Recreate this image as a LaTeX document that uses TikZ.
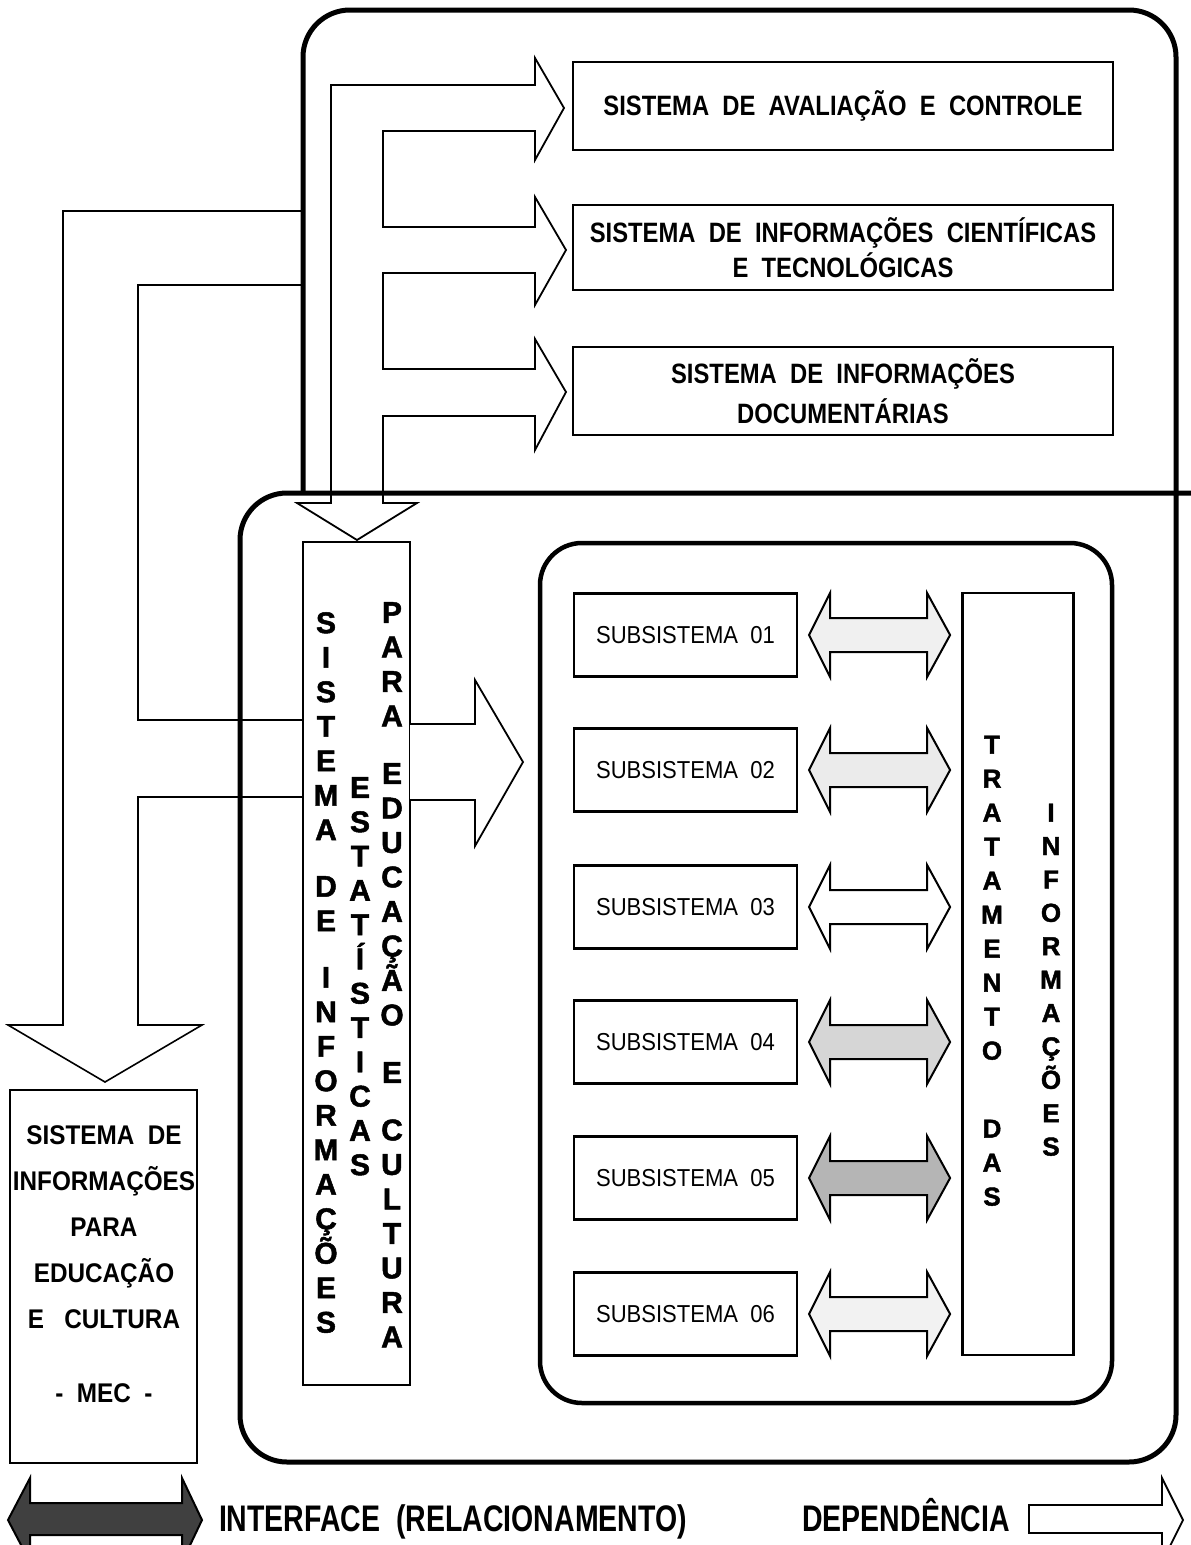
\documentclass[tikz,border=0pt]{standalone}
\usepackage{fontspec}
\setmainfont{Liberation Sans}
\newfontfamily\boxf{Liberation Sans}[FakeStretch=0.85]
\newfontfamily\subf{Liberation Sans}[FakeStretch=0.9]
\newfontfamily\mecf{Liberation Sans}[FakeStretch=0.9]
\newfontfamily\legf{Liberation Sans}[FakeStretch=0.77]
\newfontfamily\vertf{Liberation Sans}[BoldFeatures={FakeBold=1.6}]
\usetikzlibrary{calc}
\begin{document}
\begin{tikzpicture}[x=1pt,y=-1pt,line join=miter,
  heavyframe/.style={line width=5pt},
  innerframe/.style={line width=4.5pt},
  rbox/.style={draw,line width=2.2pt,inner sep=0pt},
  deparrow/.style={draw,line width=1.8pt,fill=white},
  linkline/.style={draw,line width=1.6pt},
  ifarrow/.style={draw,line width=2pt},
  topfont/.style={font=\boxf\bfseries\fontsize{28}{35}\selectfont},
  subfont/.style={font=\subf\fontsize{24.5}{28}\selectfont},
  vletters/.style={anchor=north,inner sep=0pt,align=center,font=\vertf\bfseries\fontsize{30}{34.5}\selectfont},
]
\fill[white] (0,0) rectangle (1191,1545);
\useasboundingbox (0,0) rectangle (1191,1545);

% dependency arrows (upper part)
\draw[deparrow] (331,503) -- (331,85) -- (535,85) -- (535,58) -- (564,108) -- (535,160) -- (535,131)
  -- (383,131) -- (383,227) -- (535,227) -- (535,197) -- (566,250) -- (535,305) -- (535,273)
  -- (383,273) -- (383,369) -- (535,369) -- (535,339) -- (566,392) -- (535,450) -- (535,416)
  -- (383,416) -- (383,503) -- (417,503) -- (357,540) -- (297,503) -- cycle;

% left links towards MEC
\draw[linkline] (303,211) -- (63,211) -- (63,1025) -- (8,1025) -- (105,1082) -- (202,1025)
  -- (138,1025) -- (138,797) -- (303,797);
\draw[linkline] (303,285) -- (138,285) -- (138,720) -- (303,720);

% frames
\draw[heavyframe, rounded corners=47pt] (303,493) -- (303,10) -- (1176,10) -- (1176,493);
\draw[heavyframe, rounded corners=47pt] (1191,493) -- (240,493) -- (240,1462) -- (1176,1462) -- (1176,493);
\draw[innerframe, rounded corners=42pt] (540,543) rectangle (1112,1403);

% top boxes
\node[rbox,topfont,minimum width=540pt,minimum height=88pt] (sac) at (843,106)
  {SISTEMA~~DE~~AVALIAÇÃO~~E~~CONTROLE};
\node[rbox,topfont,align=center,minimum width=540pt,minimum height=85pt] (sict) at (843,247.5)
  {SISTEMA~~DE~~INFORMAÇÕES~~CIENTÍFICAS\\E~~TECNOLÓGICAS};
\node[rbox,align=center,minimum width=540pt,minimum height=88pt,
  font=\boxf\bfseries\fontsize{28}{40}\selectfont] (sid) at (843,391)
  {SISTEMA~~DE~~INFORMAÇÕES\\DOCUMENTÁRIAS};

% tall statistics box
\node[rbox, minimum width=107pt, minimum height=843pt] (estat) at (356.5,963.5) {};
\node[vletters] (col1) at (326,612)
  {S\\I\\S\\T\\E\\M\\A\\[22pt]D\\E\\[22pt]I\\N\\F\\O\\R\\M\\A\\Ç\\Õ\\E\\S};
\node[vletters, font=\vertf\bfseries\fontsize{30}{34.3}\selectfont] (col2) at (360,777)
  {E\\S\\T\\A\\T\\Í\\S\\T\\I\\C\\A\\S};
\node[vletters] (col3) at (392,602)
  {P\\A\\R\\A\\[23pt]E\\D\\U\\C\\A\\Ç\\Ã\\O\\[23pt]E\\[23pt]C\\U\\L\\T\\U\\R\\A};

% arrow into the inner frame
\draw[deparrow] (410,724) -- (475,724) -- (475,680) -- (523,762) -- (475,846) -- (475,800) -- (410,800);

% subsystems
\node[rbox,subfont,minimum width=223pt,minimum height=83pt] (s1) at (685.5,635) {SUBSISTEMA~~01};
\node[rbox,subfont,minimum width=223pt,minimum height=83pt] (s2) at (685.5,770) {SUBSISTEMA~~02};
\node[rbox,subfont,minimum width=223pt,minimum height=83pt] (s3) at (685.5,907) {SUBSISTEMA~~03};
\node[rbox,subfont,minimum width=223pt,minimum height=83pt] (s4) at (685.5,1042) {SUBSISTEMA~~04};
\node[rbox,subfont,minimum width=223pt,minimum height=83pt] (s5) at (685.5,1178) {SUBSISTEMA~~05};
\node[rbox,subfont,minimum width=223pt,minimum height=83pt] (s6) at (685.5,1314) {SUBSISTEMA~~06};

% treatment box
\node[rbox, minimum width=111pt, minimum height=762pt] (trat) at (1018,974) {};
\node[vletters, font=\vertf\bfseries\fontsize{26}{34}\selectfont] (col4) at (992,735.5)
  {T\\R\\A\\T\\A\\M\\E\\N\\T\\O\\[44pt]D\\A\\S};
\node[vletters, font=\vertf\bfseries\fontsize{26}{33.4}\selectfont] (col5) at (1051,803.5)
  {I\\N\\F\\O\\R\\M\\A\\Ç\\Õ\\E\\S};

% interface arrows
\foreach \n/\fc in {s1/gray!12, s2/gray!16, s3/white, s4/gray!32, s5/gray!58, s6/gray!10}{
  \draw[ifarrow, fill=\fc] ([xshift=11pt]\n.east) -- ++(21,-42) -- ++(0,25) -- ++(97,0) -- ++(0,-25)
    -- ++(23,42) -- ++(-23,42) -- ++(0,-25) -- ++(-97,0) -- ++(0,25) -- cycle;
}

% MEC box
\node[rbox, minimum width=187pt, minimum height=373pt] (mec) at (103.5,1276.5) {};
\node[anchor=north, inner sep=0pt, align=center, font=\mecf\bfseries\fontsize{27}{46}\selectfont]
  (mectxt) at (104,1125)
  {SISTEMA~~DE\\INFORMAÇÕES\\PARA\\EDUCAÇÃO\\E~~~CULTURA\\[28pt]-~~MEC~~-};

% legend
\draw[ifarrow, fill=black!75] (8,1520) -- (30,1478) -- (30,1503) -- (182,1503) -- (182,1478)
  -- (202,1520) -- (182,1562) -- (182,1535) -- (30,1535) -- (30,1562) -- cycle;
\node[anchor=base, inner sep=0pt, font=\legf\bfseries\fontsize{37}{40}\selectfont] (iftxt)
  at (453,1531) {INTERFACE~~(RELACIONAMENTO)};
\node[anchor=base, inner sep=0pt, font=\legf\bfseries\fontsize{37}{40}\selectfont] (deptxt)
  at (906,1531) {DEPENDÊNCIA};
\draw[deparrow] (1029,1505) -- (1162,1505) -- (1162,1478) -- (1183,1520) -- (1162,1562)
  -- (1162,1533) -- (1029,1533) -- cycle;
\end{tikzpicture}
\end{document}
